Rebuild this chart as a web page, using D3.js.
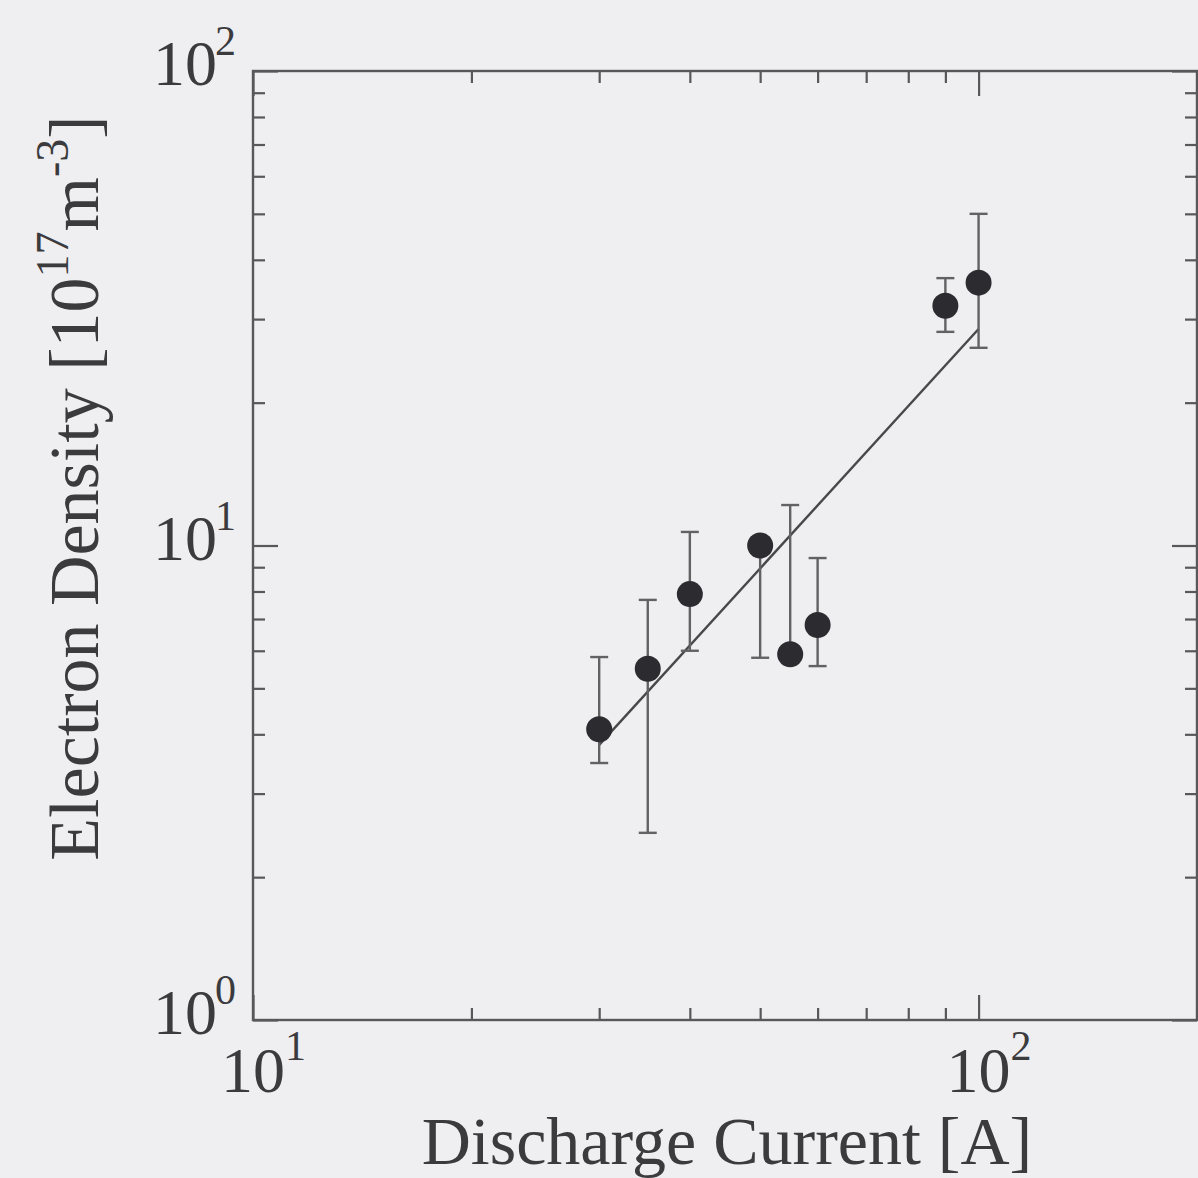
<!DOCTYPE html>
<html>
<head>
<meta charset="utf-8">
<script src="https://cdn.jsdelivr.net/npm/d3@7"></script>
<style>
  html, body { margin: 0; padding: 0; background: #efeef1; }
  svg { display: block; }
</style>
</head>
<body>
<svg id="chart" width="1198" height="1178"></svg>
<script>
// ---- data ----
const current   = [30, 35, 40, 50, 55, 60, 90, 100];          // Discharge Current [A]
const density   = [4.1, 5.5, 7.9, 10.0, 5.9, 6.8, 32.0, 35.8]; // Electron Density [1e17 m^-3]
const errLow    = [3.48, 2.48, 6.0, 5.8, 5.9, 5.57, 28.2, 26.1];
const errHigh   = [5.82, 7.68, 10.68, 10.0, 12.17, 9.41, 36.6, 50.0];
const fitX      = [30, 100];
const fitY      = [3.8, 28.6];
const xMajor    = [10, 100];
const xMinor    = [20, 30, 40, 50, 60, 70, 80, 90, 200];
const yMajor    = [1, 10, 100];
const yMinor    = [2, 3, 4, 5, 6, 7, 8, 9, 20, 30, 40, 50, 60, 70, 80, 90];
const xExp      = ["1", "2"];
const yExp      = ["0", "1", "2"];

const svg = d3.select("#chart");
const L = 253, R = 1197, T = 71, B = 1020;
const x = d3.scaleLog().domain([10, 200]).range([L, R]);
const y = d3.scaleLog().domain([1, 100]).range([B, T]);

const ink = "#3b3b3e";
const lineCol = "#58585b";
const font = "'Liberation Serif', 'Times New Roman', serif";

// frame
svg.append("rect").attr("x", L).attr("y", T).attr("width", R - L).attr("height", B - T)
  .attr("fill", "none").attr("stroke", lineCol).attr("stroke-width", 2.4);

function styleAxis(g) {
  g.select(".domain").remove();
  g.selectAll(".tick line").attr("stroke", lineCol).attr("stroke-width", 2.2);
  g.selectAll(".tick text").remove();
}
// ticks (inward) on all four sides
svg.append("g").attr("transform", `translate(0,${B})`)
  .call(d3.axisBottom(x).tickValues(xMinor).tickSize(-12).tickFormat("")).call(styleAxis);
svg.append("g").attr("transform", `translate(0,${B})`)
  .call(d3.axisBottom(x).tickValues(xMajor).tickSize(-25).tickFormat("")).call(styleAxis);
svg.append("g").attr("transform", `translate(0,${T})`)
  .call(d3.axisTop(x).tickValues(xMinor).tickSize(-12).tickFormat("")).call(styleAxis);
svg.append("g").attr("transform", `translate(0,${T})`)
  .call(d3.axisTop(x).tickValues(xMajor).tickSize(-25).tickFormat("")).call(styleAxis);
svg.append("g").attr("transform", `translate(${L},0)`)
  .call(d3.axisLeft(y).tickValues(yMinor).tickSize(-12).tickFormat("")).call(styleAxis);
svg.append("g").attr("transform", `translate(${L},0)`)
  .call(d3.axisLeft(y).tickValues(yMajor).tickSize(-25).tickFormat("")).call(styleAxis);
svg.append("g").attr("transform", `translate(${R},0)`)
  .call(d3.axisRight(y).tickValues(yMinor).tickSize(-12).tickFormat("")).call(styleAxis);
svg.append("g").attr("transform", `translate(${R},0)`)
  .call(d3.axisRight(y).tickValues(yMajor).tickSize(-25).tickFormat("")).call(styleAxis);

// tick labels 10^n
const mainSize = 64, supSize = 42;
xMajor.forEach((v, i) => {
  svg.append("text").attr("x", x(v)).attr("y", B + 72)
    .attr("text-anchor", "middle").attr("font-family", font).attr("font-size", mainSize)
    .attr("fill", ink).text("10");
  svg.append("text").attr("x", x(v) + 32).attr("y", B + 40)
    .attr("text-anchor", "start").attr("font-family", font).attr("font-size", supSize)
    .attr("fill", ink).text(xExp[i]);
});
yMajor.forEach((v, i) => {
  svg.append("text").attr("x", L - 36).attr("y", y(v) + 14)
    .attr("text-anchor", "end").attr("font-family", font).attr("font-size", mainSize)
    .attr("fill", ink).text("10");
  svg.append("text").attr("x", L - 38).attr("y", y(v) - 16)
    .attr("text-anchor", "start").attr("font-family", font).attr("font-size", supSize)
    .attr("fill", ink).text(yExp[i]);
});

// axis titles
svg.append("text").attr("x", (L + R) / 2 + 2).attr("y", 1164)
  .attr("text-anchor", "middle").attr("font-family", font).attr("font-size", 68)
  .attr("fill", ink).text("Discharge Current [A]");

const yt = svg.append("text").attr("transform", `translate(98,488) rotate(-90)`)
  .attr("text-anchor", "middle").attr("font-family", font).attr("font-size", 70)
  .attr("fill", ink);
yt.append("tspan").text("Electron Density [10");
yt.append("tspan").attr("font-size", 46).attr("dy", -30).text("17");
yt.append("tspan").attr("dy", 30).text("m");
yt.append("tspan").attr("font-size", 46).attr("dy", -30).text("-3");
yt.append("tspan").attr("dy", 30).text("]");

// fit line
svg.append("path")
  .datum(fitX.map((v, i) => [v, fitY[i]]))
  .attr("d", d3.line().x(d => x(d[0])).y(d => y(d[1])))
  .attr("fill", "none").attr("stroke", "#48484b").attr("stroke-width", 2.4);

// error bars
const pts = current.map((c, i) => ({ c, v: density[i], lo: errLow[i], hi: errHigh[i] }));
const eb = svg.append("g").attr("stroke", "#626265").attr("stroke-width", 2.4);
eb.selectAll("line.v").data(pts).join("line").attr("class", "v")
  .attr("x1", d => x(d.c)).attr("x2", d => x(d.c))
  .attr("y1", d => y(d.lo)).attr("y2", d => y(d.hi));
eb.selectAll("line.capl").data(pts).join("line").attr("class", "capl")
  .attr("x1", d => x(d.c) - 9).attr("x2", d => x(d.c) + 9)
  .attr("y1", d => y(d.lo)).attr("y2", d => y(d.lo));
eb.selectAll("line.caph").data(pts).join("line").attr("class", "caph")
  .attr("x1", d => x(d.c) - 9).attr("x2", d => x(d.c) + 9)
  .attr("y1", d => y(d.hi)).attr("y2", d => y(d.hi));

// points
svg.append("g").selectAll("circle").data(pts).join("circle")
  .attr("cx", d => x(d.c)).attr("cy", d => y(d.v)).attr("r", 13)
  .attr("fill", "#2c2c30");
</script>
</body>
</html>
